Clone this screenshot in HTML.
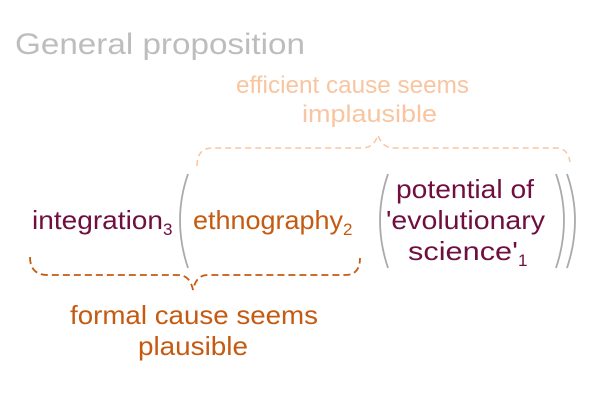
<!DOCTYPE html>
<html><head><meta charset="utf-8"><style>
html,body{margin:0;padding:0;background:#fff;width:600px;height:400px;overflow:hidden}
text{font-family:"Liberation Sans",Arial,sans-serif}
</style></head><body>
<svg width="600" height="400" viewBox="0 0 600 400" xmlns="http://www.w3.org/2000/svg">
<text x="15" y="54" font-size="30" fill="#bdbdbd" textLength="290" lengthAdjust="spacingAndGlyphs">General proposition</text>
<g font-size="24" fill="#f8c5a0">
<text x="236" y="93" textLength="233" lengthAdjust="spacingAndGlyphs">efficient cause seems</text>
<text x="302" y="122" textLength="135" lengthAdjust="spacingAndGlyphs">implausible</text>
</g>
<path d="M197,166 Q197,148 212,148 L362,148 Q374,148 378,135 Q382,148 394,148 L556,148 Q568,148 570,162" fill="none" stroke="#f8c5a0" stroke-width="1.5" stroke-dasharray="6,4"/>
<g font-size="26">
<text x="32" y="229" fill="#6e0f3f"><tspan textLength="131" lengthAdjust="spacingAndGlyphs">integration</tspan><tspan font-size="17" dy="6">3</tspan></text>
<text x="193" y="229" fill="#c55a11"><tspan textLength="150" lengthAdjust="spacingAndGlyphs">ethnography</tspan><tspan font-size="17" dy="6">2</tspan></text>
<g fill="#6e0f3f">
<text x="396" y="198" textLength="138" lengthAdjust="spacingAndGlyphs">potential of</text>
<text x="386" y="229" textLength="159" lengthAdjust="spacingAndGlyphs">'evolutionary</text>
<text x="408" y="260"><tspan textLength="110" lengthAdjust="spacingAndGlyphs">science'</tspan><tspan font-size="17" dy="6">1</tspan></text>
</g>
</g>
<g fill="none" stroke="#aaaaaa" stroke-width="1.8">
<path d="M188,174 Q172,220 188,268"/>
<path d="M388,174 Q372,220 388,268"/>
<path d="M556,174 Q572,220 556,268"/>
<path d="M567,174 Q583,220 567,268"/>
</g>
<path d="M30,257 Q30,275 48,275 L178,275 Q190,275 193,290 Q196,275 208,275 L345,275 Q360,275 360,258" fill="none" stroke="#c55a11" stroke-width="1.8" stroke-dasharray="7,4"/>
<g font-size="26" fill="#c55a11">
<text x="70" y="324" textLength="248" lengthAdjust="spacingAndGlyphs">formal cause seems</text>
<text x="138" y="355" textLength="110" lengthAdjust="spacingAndGlyphs">plausible</text>
</g>
</svg>
</body></html>
